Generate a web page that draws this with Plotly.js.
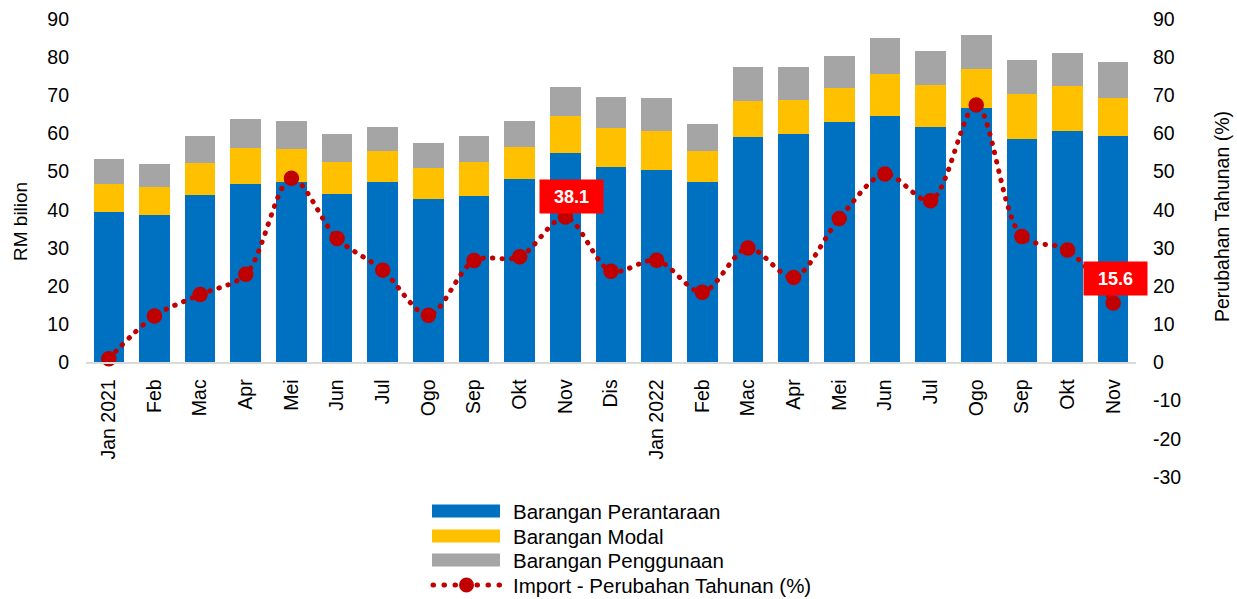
<!DOCTYPE html>
<html><head><meta charset="utf-8">
<script src="https://cdn.plot.ly/plotly-3.0.1.min.js"></script>
<style>
html,body{margin:0;padding:0;background:#fff;} #chart{width:1237px;height:599px;}
#chart .scatterlayer .js-line{stroke-linecap:round;}
#chart .shapelayer path{stroke-linecap:round;}
</style>
</head><body><div id="chart"></div>
<script>
const months = ['Jan 2021','Feb','Mac','Apr','Mei','Jun','Jul','Ogo','Sep','Okt','Nov','Dis','Jan 2022','Feb','Mac','Apr','Mei','Jun','Jul','Ogo','Sep','Okt','Nov'];
const perantaraan = [39.5,38.6,44.0,46.9,47.3,44.2,47.2,42.8,43.7,48.1,54.9,51.1,50.5,47.4,59.0,59.8,63.1,64.5,61.8,66.6,58.6,60.7,59.4];
const modal       = [7.3,7.5,8.2,9.2,8.7,8.3,8.2,8.2,8.8,8.4,9.6,10.4,10.1,8.0,9.5,9.1,8.9,11.1,11.0,10.2,11.8,11.8,9.9];
const penggunaan  = [6.5,5.9,7.2,7.6,7.2,7.3,6.4,6.4,6.9,6.9,7.6,8.0,8.7,7.0,8.8,8.4,8.4,9.3,8.7,9.0,8.8,8.6,9.5];
const importYoY   = [1.0,12.2,17.8,23.1,48.3,32.5,24.2,12.4,26.7,27.7,38.1,23.9,26.8,18.4,30.0,22.3,37.7,49.4,42.4,67.5,33.0,29.5,15.6];
const seriesNames = ['Barangan Perantaraan','Barangan Modal','Barangan Penggunaan','Import - Perubahan Tahunan (%)'];
const labelledIdx = [10, 22];
const leftTicks = [0,10,20,30,40,50,60,70,80,90];
const rightTicks = [-30,-20,-10,0,10,20,30,40,50,60,70,80,90];

const FONT = 'Arial, "Liberation Sans", sans-serif';
const FS = 19.5;
const BLUE='#0070C0', YEL='#FFC000', GRAY='#A5A5A5', RED='#C00000';
const idx = months.map((_,i)=>i);

// plot area in pixels
const L=86, R=1136, T=19, B=477;
const px = x => (x-L)/(R-L);
const py = y => (B-y)/(B-T);

const traces = [
  {type:'bar', x:idx, y:perantaraan, name:seriesNames[0], marker:{color:BLUE}, showlegend:false, hoverinfo:'y'},
  {type:'bar', x:idx, y:modal, name:seriesNames[1], marker:{color:YEL}, showlegend:false, hoverinfo:'y'},
  {type:'bar', x:idx, y:penggunaan, name:seriesNames[2], marker:{color:GRAY}, showlegend:false, hoverinfo:'y'},
  {type:'scatter', mode:'lines+markers', x:idx, y:importYoY, yaxis:'y2', name:seriesNames[3], showlegend:false,
   line:{color:RED, width:5, dash:'0.5px,9px', shape:'spline', smoothing:0.9},
   marker:{color:RED, size:14, symbol:'circle', line:{color:RED, width:1.5}}}
];

const tickFont = {family:FONT, size:FS, color:'#000'};
const annotations = [];
labelledIdx.forEach((i,k)=>{
  annotations.push({x:i, y:importYoY[i] + (k===0?5.4:6.3), xref:'x', yref:'y2', xshift:(k===0?6:2),
    text:'<b>'+importYoY[i].toFixed(1)+'</b>', showarrow:false, bgcolor:'#FF0000',
    font:{family:FONT, size:18, color:'#fff'}, width:59, height:29, borderpad:2});
});
annotations.push({xref:'paper', yref:'paper', x:px(20), y:py(222), text:'RM bilion', textangle:-90, showarrow:false,
  font:{family:FONT, size:19, color:'#000'}, xanchor:'center', yanchor:'middle'});
annotations.push({xref:'paper', yref:'paper', x:px(1222), y:py(217), text:'Perubahan Tahunan (%)', textangle:-90, showarrow:false,
  font:{family:FONT, size:19.5, color:'#000'}, xanchor:'center', yanchor:'middle'});

// manual legend
const legY = [511, 536, 560, 585];
const legCols = [BLUE, YEL, GRAY];
const shapes = [];
legCols.forEach((c,i)=>{
  shapes.push({type:'rect', xref:'paper', yref:'paper', x0:px(432), x1:px(500), y0:py(legY[i]-6.5), y1:py(legY[i]+6.5),
    fillcolor:c, line:{width:0}});
});
shapes.push({type:'line', xref:'paper', yref:'paper', x0:px(433), x1:px(500), y0:py(legY[3]), y1:py(legY[3]),
  line:{color:RED, width:5, dash:'0.5px,10.5px'}});
shapes.push({type:'circle', xref:'paper', yref:'paper', x0:px(459), x1:px(474), y0:py(legY[3]-7.5), y1:py(legY[3]+7.5),
  fillcolor:RED, line:{color:RED, width:0}});
seriesNames.forEach((n,i)=>{
  annotations.push({xref:'paper', yref:'paper', x:px(511), y:py(legY[i]), text:n, showarrow:false, xanchor:'left', yanchor:'middle',
    font:{family:FONT, size:20.5, color:'#000'}});
});

const layout = {
  width:1237, height:599,
  margin:{l:L, r:1237-R, t:T, b:599-B, pad:0},
  paper_bgcolor:'#fff', plot_bgcolor:'#fff',
  barmode:'stack', bargap:0.33,
  showlegend:false,
  font:{family:FONT, size:FS, color:'#000'},
  xaxis:{tickvals:idx, ticktext:months, tickangle:-90, anchor:'free', position:0.25,
    showline:true, linecolor:'#d9d9d9', linewidth:2, showgrid:false, zeroline:false,
    range:[-0.5, months.length-0.5], ticks:'', tickfont:tickFont, ticklabelstandoff:8, fixedrange:true},
  yaxis:{range:[-30,90], tickvals:leftTicks, ticktext:leftTicks.map(String), showgrid:false, zeroline:false, showline:false, ticks:'',
    tickfont:tickFont, ticklabelstandoff:16, fixedrange:true},
  yaxis2:{range:[-30,90], tickvals:rightTicks, ticktext:rightTicks.map(String), overlaying:'y', side:'right', showgrid:false, zeroline:false,
    showline:false, ticks:'', tickfont:tickFont, ticklabelstandoff:16, fixedrange:true},
  annotations:annotations, shapes:shapes
};
Plotly.newPlot('chart', traces, layout, {staticPlot:true, displayModeBar:false});
</script>
</body></html>
